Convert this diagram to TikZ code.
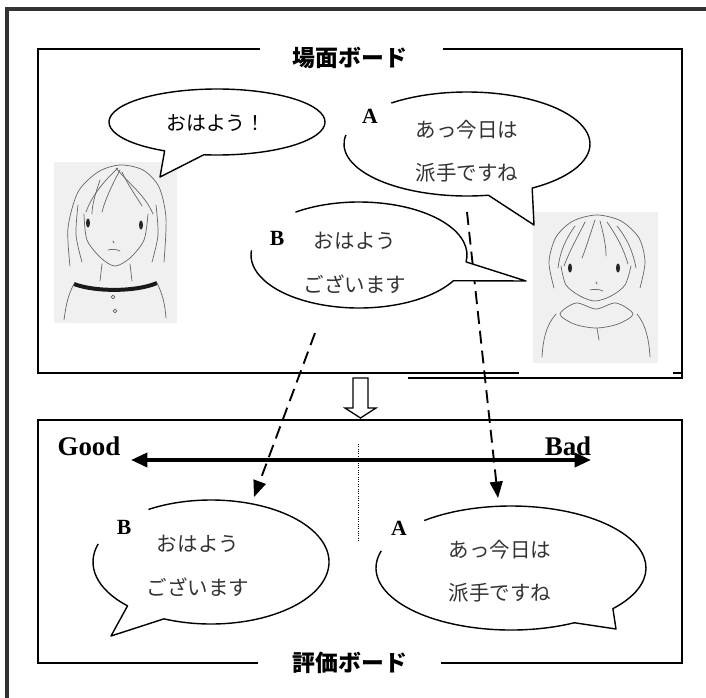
\documentclass[tikz,border=0pt]{standalone}
\usepackage{fontspec}
\setmainfont{Liberation Serif}
\newfontfamily\jpfont{Noto Sans CJK JP}
\usetikzlibrary{arrows.meta, calc}

\begin{document}
\begin{tikzpicture}[
    x=0.03cm, y=-0.03cm,
    frame/.style={line width=2.6pt, black!80},
    board/.style={line width=1.6pt},
    bubble/.style={line width=1.2pt, fill=white, line join=round},
    talk/.style={font=\jpfont\fontsize{17.5}{37}\selectfont, text=black!80, align=center, inner sep=0pt},
    hello/.style={font=\jpfont\fontsize{17}{20}\selectfont, inner sep=0pt},
    tag/.style={font=\bfseries\fontsize{18.5}{20}\selectfont, inner sep=0pt},
    heading/.style={font=\jpfont\bfseries\fontsize{19.5}{22}\selectfont, inner sep=0pt},
    pole/.style={font=\bfseries\fontsize{23}{25}\selectfont, inner sep=0pt},
    link/.style={line width=1.6pt, dash pattern=on 11pt off 6pt, -{Triangle[length=14pt,width=11pt]}},
    sketch/.style={black!60, line width=0.6pt, line cap=round}
]
    \useasboundingbox (0,0) rectangle (706,697);

    % outer frame, cut off at right and bottom
    \draw[frame] (720,9) -- (7,9) -- (7,710);

    % scene board
    \draw[board] (260,49) -- (38,49) -- (38,373) -- (519,373);
    \draw[board] (443,49) -- (682,49) -- (682,378) -- (408,378);
    \draw[board] (673,373) -- (682,373);
    \node[heading] (sceneTitle) at (350,58) {場面ボード};

    % evaluation board
    \draw[board] (258,663) -- (38,663) -- (38,420) -- (682,420) -- (682,663) -- (441,663);
    \node[heading] (evalTitle) at (350,663) {評価ボード};

    % girl
    \fill[black!6] (54,162) rectangle (177,323);
    \draw[sketch] plot[smooth] coordinates {(70,266) (68,228) (78,192) (98,172) (120,165) (143,170) (159,187) (166,218) (164,262)};
    \draw[sketch] plot[smooth] coordinates {(84,214) (87,240) (101,258) (115,266) (130,258) (144,240) (148,214)};
    \draw[sketch] plot[smooth] coordinates {(78,205) (76,235) (82,262)};
    \draw[sketch] plot[smooth] coordinates {(156,205) (158,235) (152,262)};
    \draw[sketch] (118,168) .. controls (105,180) and (92,195) .. (86,212);
    \draw[sketch] (120,170) .. controls (112,185) and (105,200) .. (102,212);
    \draw[sketch] (116,168) .. controls (130,185) and (145,195) .. (153,214);
    \draw[sketch] (122,172) .. controls (128,185) and (136,196) .. (142,206);
    \draw[sketch] (100,180) .. controls (95,195) and (92,205) .. (92,214);
    \fill[black!85] (88,223) ellipse [x radius=2, y radius=4.5];
    \fill[black!85] (141,225) ellipse [x radius=2, y radius=4.5];
    \draw[sketch] (113,241) -- (114,243);
    \draw[sketch] (108,250) .. controls (112,249) and (116,249) .. (120,251);
    \draw[sketch] (102,264) -- (100,281);
    \draw[sketch] (130,264) -- (132,281);
    \draw[line width=3.4pt, black!90] (74,284) .. controls (95,292) and (136,292) .. (157,283);
    \draw[sketch] (74,284) .. controls (68,295) and (66,305) .. (64,320);
    \draw[sketch] (157,283) .. controls (163,295) and (165,305) .. (166,318);
    \draw[sketch] (113,297) circle [radius=1.8];
    \draw[sketch] (115,311) circle [radius=1.8];

    % boy
    \fill[black!6] (533,212) rectangle (658,363);
    \draw[sketch] plot[smooth] coordinates {(554,288) (549,262) (556,237) (573,221) (597,215) (621,221) (639,238) (645,262) (640,288)};
    \draw[sketch] (585,222) .. controls (577,238) and (570,250) .. (564,266);
    \draw[sketch] (595,220) .. controls (590,235) and (586,248) .. (582,258);
    \draw[sketch] (600,221) .. controls (604,236) and (606,246) .. (606,256);
    \draw[sketch] (607,222) .. controls (618,238) and (624,250) .. (628,264);
    \draw[sketch] (575,226) .. controls (565,240) and (560,252) .. (558,268);
    \draw[sketch] (617,226) .. controls (628,240) and (633,252) .. (636,268);
    \draw[sketch] plot[smooth] coordinates {(561,266) (566,285) (580,296) (595,301) (611,296) (625,285) (631,266)};
    \fill[black!85] (570,268) ellipse [x radius=2, y radius=4.5];
    \fill[black!85] (618,268) ellipse [x radius=2, y radius=4.5];
    \draw[sketch] (596,282) -- (597,284);
    \draw[sketch] (590,290) .. controls (594,289) and (599,289) .. (603,291);
    \draw[sketch] plot[smooth cycle] coordinates {(560,314) (576,303) (596,309) (616,303) (633,314) (618,324) (596,328) (574,324)};
    \draw[sketch] (556,314) .. controls (546,325) and (543,340) .. (542,357);
    \draw[sketch] (637,314) .. controls (646,325) and (649,340) .. (650,357);
    \draw[sketch] (597,328) -- (599,340);

    % dashed links from the scene to the scale
    \coordinate (bFrom) at (315,333);
    \coordinate (bTo) at (254,497);
    \coordinate (aFrom) at (467,212);
    \coordinate (aTo) at (498,498);
    \draw[link] (bFrom) -- (bTo);
    \draw[link] (aFrom) -- (aTo);

    % speech bubbles
    \coordinate (hiC) at (217,122);
    \coordinate (sceneAC) at (467,144);
    \coordinate (sceneBC) at (359,255);
    \coordinate (evalBC) at (211,562);
    \coordinate (evalAC) at (511,568);

    \draw[bubble] (hiC) ++(119:108 and 33) arc[start angle=119, end angle=457, x radius=108, y radius=33] -- (160,177) -- cycle;
    \draw[bubble] (sceneAC) ++(232:123 and 52) arc[start angle=232, end angle=418, x radius=123, y radius=52]
        -- (534,225) -- ($(sceneAC)+(80:123 and 52)$) arc[start angle=80, end angle=190, x radius=123, y radius=52];
    \draw[bubble] (sceneBC) ++(234:108 and 53) arc[start angle=234, end angle=367.5, x radius=108, y radius=53]
        -- (526,281) -- ($(sceneBC)+(29:108 and 53)$) arc[start angle=29, end angle=185, x radius=108, y radius=53];
    \draw[bubble] (evalBC) ++(238:118 and 62) arc[start angle=238, end angle=473.5, x radius=118, y radius=62]
        -- (111,636) -- ($(evalBC)+(135:118 and 62)$) arc[start angle=135, end angle=197, x radius=118, y radius=62];
    \draw[bubble] (evalAC) ++(230:135 and 62) arc[start angle=230, end angle=401, x radius=135, y radius=62]
        -- (616,629) -- ($(evalAC)+(62:135 and 62)$) arc[start angle=62, end angle=196, x radius=135, y radius=62];

    \node[hello] (hi) at (216,123) {おはよう！};
    \node[talk] (sceneA) at (467,151) {あっ今日は\\派手ですね};
    \node[talk] (sceneB) at (355,263) {おはよう\\ございます};
    \node[talk] (evalB) at (198,566) {おはよう\\ございます};
    \node[talk] (evalA) at (500,571) {あっ今日は\\派手ですね};

    \node[tag] (tagA) at (370,116) {A};
    \node[tag] (tagB) at (277,238) {B};
    \node[tag] (evalTagB) at (124,527) {B};
    \node[tag] (evalTagA) at (399,528) {A};

    % hollow arrow between the boards
    \draw[line width=1.1pt, fill=white, line join=miter] (353,378) -- (368,378) -- (368,408) -- (376,408)
        -- (360.5,418) -- (345,408) -- (353,408) -- cycle;

    % good / bad scale
    \node[pole] (good) at (89,446) {Good};
    \node[pole] (bad) at (568,446) {Bad};
    \coordinate (goodEnd) at (131,460);
    \coordinate (badEnd) at (591,460);
    \draw[line width=3.2pt, {Triangle[length=14pt,width=12pt]}-{Triangle[length=14pt,width=12pt]}] (goodEnd) -- (badEnd);
    \draw[line width=0.6pt, dash pattern=on 0.8pt off 1.2pt] (358,444) -- (358,541);
\end{tikzpicture}
\end{document}
